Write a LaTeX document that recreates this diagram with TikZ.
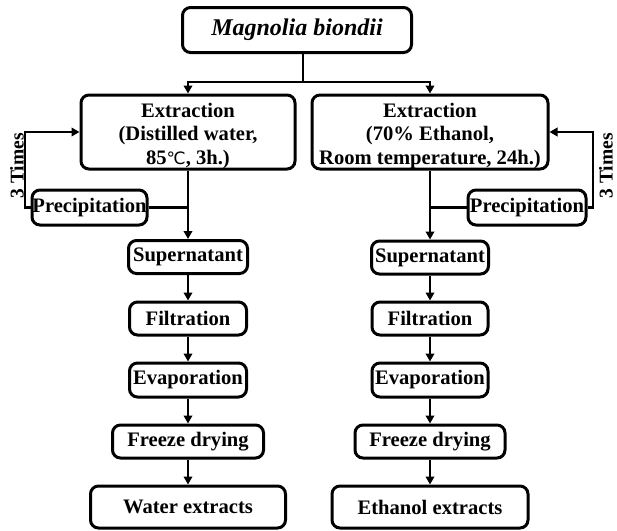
\documentclass[tikz,border=0pt]{standalone}
\usepackage{fontspec}
\setmainfont{Liberation Serif}
\newfontfamily\symfont{DejaVu Sans}
\usetikzlibrary{arrows.meta}
\begin{document}
\begin{tikzpicture}[x=1pt,y=-1pt,
  box/.style={draw,line width=3pt,rounded corners=8pt,inner sep=0pt,align=center,
    font=\fontsize{20.6}{23.3}\selectfont\bfseries},
  conn/.style={line width=2.7pt},
  arr/.style={conn,-{Triangle[length=8pt,width=8.5pt]}},
  timeslabel/.style={font=\fontsize{19.5}{22}\selectfont\bfseries,rotate=90,inner sep=0pt}]
\useasboundingbox (0,0) rectangle (617,530);
% top
\node[box,minimum width=229pt,minimum height=45pt,
  font=\fontsize{24}{28}\selectfont\bfseries\itshape] (top) at (297,30) {Magnolia biondii};
% extraction
\node[box,minimum width=214pt,minimum height=74pt] (ext1) at (188,132)
  {\rule{0pt}{22pt}Extraction\\(Distilled water,\\85{\symfont\mdseries\fontsize{17}{20}\selectfont ℃}, 3h.)};
\node[box,minimum width=236pt,minimum height=74pt] (ext2) at (430,132)
  {\rule{0pt}{22pt}Extraction\\(70\% Ethanol,\\Room temperature, 24h.)};
% precipitation
\node[box,minimum width=115pt,minimum height=35pt] (prec1) at (89.5,207.5) {Precipitation};
\node[box,minimum width=118pt,minimum height=35pt] (prec2) at (527,207.5) {Precipitation};
% left column
\node[box,minimum width=119pt,minimum height=33pt] (sup1) at (188,257) {Supernatant};
\node[box,minimum width=117pt,minimum height=33pt] (fil1) at (188,318.5) {Filtration};
\node[box,minimum width=117pt,minimum height=34pt] (eva1) at (188,380) {Evaporation};
\node[box,minimum width=151pt,minimum height=33pt] (fre1) at (188,441.5) {Freeze drying};
\node[box,minimum width=195pt,minimum height=42pt] (out1) at (188,507) {Water extracts};
% right column
\node[box,minimum width=117pt,minimum height=33pt] (sup2) at (430,257.5) {Supernatant};
\node[box,minimum width=116pt,minimum height=33pt] (fil2) at (430,318.5) {Filtration};
\node[box,minimum width=116pt,minimum height=34pt] (eva2) at (430,380) {Evaporation};
\node[box,minimum width=150pt,minimum height=33pt] (fre2) at (430,441.5) {Freeze drying};
\node[box,minimum width=196pt,minimum height=42pt] (out2) at (430,507) {Ethanol extracts};
% 3 Times labels
\node[timeslabel] (t1) at (17,166) {3 Times};
\node[timeslabel] (t2) at (606,166) {3 Times};
% split from top
\coordinate (sp) at (303,82);
\draw[conn] (sp |- top.south) -- (sp);
\draw[arr] (sp) -| (ext1.north);
\draw[arr] (sp) -| (ext2.north);
% loops
\coordinate (l1) at (25,207.5);
\coordinate (r1) at (593,207.5);
\draw[arr] (prec1.west) -- (l1) |- (ext1.west);
\draw[arr] (prec2.east) -- (r1) |- (ext2.east);
\coordinate (j1) at (ext1.south |- prec1.east);
\coordinate (j2) at (ext2.south |- prec2.west);
\draw[conn] (prec1.east) -- (j1);
\draw[conn] (prec2.west) -- (j2);
% chains
\draw[arr] (ext1.south) -- (sup1.north);
\draw[arr] (sup1) -- (fil1);
\draw[arr] (fil1) -- (eva1);
\draw[arr] (eva1) -- (fre1);
\draw[arr] (fre1) -- (out1);
\draw[arr] (ext2.south) -- (sup2.north);
\draw[arr] (sup2) -- (fil2);
\draw[arr] (fil2) -- (eva2);
\draw[arr] (eva2) -- (fre2);
\draw[arr] (fre2) -- (out2);
\end{tikzpicture}
\end{document}
